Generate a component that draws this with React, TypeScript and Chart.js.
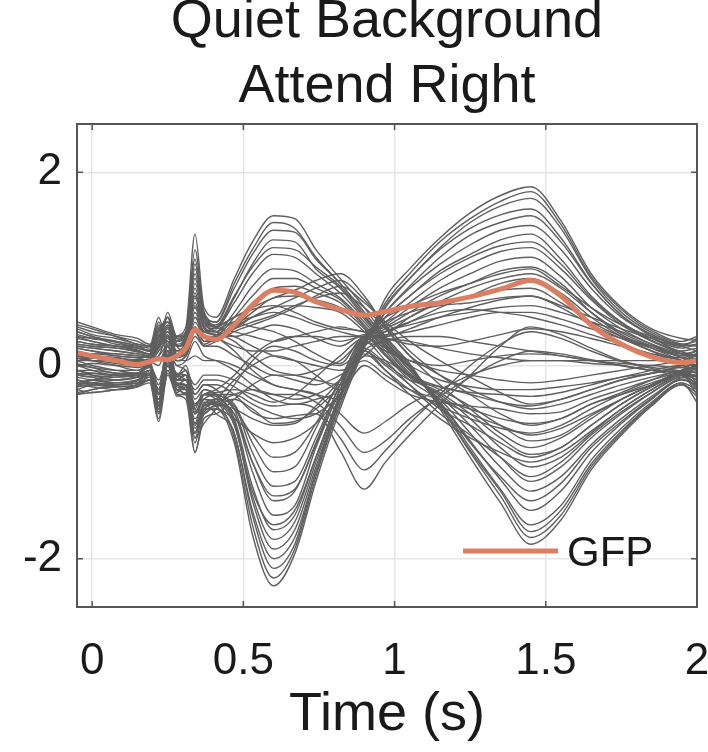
import React, { useEffect, useRef } from 'react';
import { Chart, registerables } from 'chart.js';

Chart.register(...registerables);

// ---------- data ----------
const times = [-0.05, 0, 0.08, 0.15, 0.19, 0.22, 0.25, 0.28, 0.31, 0.34, 0.37, 0.41, 0.47, 0.53, 0.6, 0.67, 0.74, 0.82, 0.9, 0.97, 1.05, 1.15, 1.25, 1.35, 1.45, 1.55, 1.65, 1.75, 1.85, 1.95, 2.0];

const gfp = [0.13, 0.1, 0.05, 0.01, 0.04, 0.07, 0.06, 0.1, 0.18, 0.37, 0.3, 0.27, 0.42, 0.62, 0.78, 0.76, 0.66, 0.58, 0.52, 0.56, 0.61, 0.65, 0.71, 0.79, 0.88, 0.72, 0.42, 0.22, 0.09, 0.03, 0.05];

// channels negative around 0.6 s, positive around 1.45 s
const n1 = [-0.15, -0.18, -0.22, -0.2, -0.1, -0.5, 0.05, -0.3, -0.35, -0.9, -0.5, -0.45, -0.8, -1.75, -2.28, -1.95, -1.2, -0.45, 0.18, 0.7, 1.0, 1.32, 1.58, 1.76, 1.85, 1.5, 0.95, 0.6, 0.38, 0.28, 0.26];
const n2 = [-0.1, -0.12, -0.2, -0.18, -0.05, -0.45, 0.1, -0.25, -0.3, -0.8, -0.45, -0.4, -0.75, -1.65, -2.2, -1.9, -1.15, -0.4, 0.2, 0.65, 0.95, 1.28, 1.52, 1.7, 1.8, 1.46, 0.92, 0.58, 0.36, 0.25, 0.3];
const n3 = [-0.2, -0.22, -0.25, -0.22, -0.15, -0.55, 0.0, -0.32, -0.28, -0.75, -0.4, -0.5, -0.7, -1.55, -2.1, -1.85, -1.1, -0.35, 0.22, 0.6, 0.9, 1.22, 1.48, 1.65, 1.73, 1.42, 0.9, 0.55, 0.34, 0.22, 0.2];
const n4 = [-0.05, -0.1, -0.15, -0.12, 0.0, -0.35, 0.15, -0.2, -0.2, -0.6, -0.3, -0.35, -0.6, -1.4, -1.9, -1.7, -1.05, -0.35, 0.25, 0.55, 0.8, 1.05, 1.25, 1.4, 1.45, 1.2, 0.8, 0.5, 0.32, 0.2, 0.15];
const n5 = [0.0, -0.05, -0.1, -0.1, 0.05, -0.3, 0.2, -0.15, -0.1, -0.45, -0.25, -0.3, -0.55, -1.25, -1.7, -1.55, -0.95, -0.3, 0.22, 0.5, 0.72, 0.98, 1.15, 1.3, 1.36, 1.1, 0.72, 0.45, 0.28, 0.18, 0.22];
const n6 = [-0.25, -0.2, -0.18, -0.15, -0.1, -0.4, 0.05, -0.2, -0.15, -0.5, -0.35, -0.4, -0.5, -1.1, -1.55, -1.45, -0.85, -0.25, 0.25, 0.45, 0.65, 0.88, 1.05, 1.18, 1.22, 1.0, 0.68, 0.42, 0.25, 0.12, 0.05];
const n7 = [0.1, 0.05, 0.0, -0.05, 0.0, -0.25, 0.25, -0.1, 0.0, -0.3, -0.2, -0.25, -0.45, -1.0, -1.4, -1.3, -0.8, -0.2, 0.28, 0.42, 0.6, 0.8, 0.95, 1.08, 1.12, 0.92, 0.6, 0.38, 0.22, 0.1, 0.12];
const n8 = [-0.3, -0.28, -0.25, -0.2, -0.15, -0.35, 0.0, -0.2, -0.25, -0.55, -0.4, -0.35, -0.42, -0.9, -1.25, -1.2, -0.75, -0.2, 0.3, 0.4, 0.55, 0.72, 0.85, 0.98, 1.02, 0.85, 0.55, 0.32, 0.18, 0.05, -0.02];
const n9 = [0.05, 0.0, -0.05, -0.08, 0.02, -0.2, 0.15, -0.12, -0.05, -0.35, -0.25, -0.3, -0.4, -0.8, -1.1, -1.05, -0.65, -0.15, 0.3, 0.35, 0.45, 0.6, 0.72, 0.85, 0.9, 0.75, 0.5, 0.3, 0.15, 0.02, 0.08];
const n10 = [-0.05, -0.08, -0.1, -0.1, -0.05, -0.3, 0.1, -0.15, -0.1, -0.4, -0.3, -0.3, -0.45, -0.72, -0.95, -0.9, -0.6, -0.15, 0.28, 0.3, 0.38, 0.5, 0.6, 0.68, 0.72, 0.6, 0.42, 0.28, 0.15, 0.05, 0.0];
const n11 = [-0.18, -0.2, -0.22, -0.2, -0.12, -0.45, 0.05, -0.25, -0.3, -0.7, -0.4, -0.4, -0.62, -1.3, -1.65, -1.5, -0.95, -0.3, 0.2, 0.55, 0.82, 1.12, 1.35, 1.48, 1.55, 1.28, 0.85, 0.52, 0.3, 0.15, 0.18];
const n12 = [-0.12, -0.15, -0.18, -0.15, -0.08, -0.42, 0.08, -0.22, -0.25, -0.7, -0.38, -0.42, -0.7, -1.5, -2.0, -1.78, -1.1, -0.4, 0.2, 0.62, 0.9, 1.2, 1.42, 1.56, 1.62, 1.32, 0.86, 0.52, 0.32, 0.2, 0.22];
const n13 = [0.02, -0.02, -0.08, -0.08, 0.0, -0.28, 0.12, -0.15, -0.15, -0.5, -0.3, -0.32, -0.58, -1.35, -1.8, -1.62, -1.0, -0.32, 0.24, 0.5, 0.72, 0.95, 1.12, 1.24, 1.28, 1.05, 0.7, 0.44, 0.26, 0.14, 0.1];
const n14 = [-0.22, -0.2, -0.2, -0.16, -0.1, -0.38, 0.02, -0.18, -0.2, -0.48, -0.35, -0.38, -0.5, -1.0, -1.35, -1.28, -0.82, -0.25, 0.26, 0.38, 0.5, 0.66, 0.8, 0.9, 0.95, 0.8, 0.55, 0.34, 0.2, 0.08, 0.04];

// channels positive around 0.6 s, negative around 1.45 s
const p1 = [0.3, 0.28, 0.25, 0.2, 0.15, 0.4, 0.1, 0.3, 0.4, 1.36, 0.6, 0.5, 0.9, 1.28, 1.55, 1.52, 1.2, 0.9, 0.6, 0.3, 0.02, -0.45, -0.95, -1.42, -1.85, -1.6, -1.08, -0.72, -0.42, -0.2, -0.32];
const p2 = [0.35, 0.3, 0.22, 0.2, 0.18, 0.45, 0.15, 0.25, 0.35, 1.1, 0.55, 0.45, 0.85, 1.2, 1.48, 1.42, 1.12, 0.85, 0.55, 0.28, 0.0, -0.42, -0.9, -1.35, -1.78, -1.55, -1.05, -0.7, -0.4, -0.18, -0.25];
const p3 = [0.25, 0.22, 0.2, 0.15, 0.12, 0.35, 0.3, 0.2, 0.3, 0.9, 0.5, 0.4, 0.7, 1.05, 1.3, 1.28, 1.0, 0.8, 0.5, 0.25, -0.05, -0.4, -0.85, -1.28, -1.65, -1.45, -0.98, -0.65, -0.38, -0.18, -0.38];
const p4 = [0.4, 0.35, 0.3, 0.22, 0.2, 0.5, 0.2, 0.3, 0.3, 0.75, 0.45, 0.4, 0.65, 0.95, 1.15, 1.12, 0.95, 0.75, 0.48, 0.22, -0.05, -0.38, -0.78, -1.18, -1.5, -1.3, -0.9, -0.6, -0.35, -0.15, -0.2];
const p5 = [0.2, 0.18, 0.15, 0.12, 0.1, 0.3, 0.35, 0.15, 0.25, 0.65, 0.4, 0.35, 0.55, 0.82, 1.0, 0.98, 0.85, 0.7, 0.45, 0.2, -0.08, -0.35, -0.7, -1.05, -1.3, -1.15, -0.82, -0.55, -0.32, -0.12, -0.1];
const p6 = [0.15, 0.12, 0.12, 0.1, 0.08, 0.25, 0.4, 0.12, 0.2, 0.5, 0.35, 0.32, 0.5, 0.72, 0.9, 0.9, 0.8, 0.68, 0.42, 0.18, -0.1, -0.32, -0.62, -0.95, -1.2, -1.05, -0.75, -0.5, -0.28, -0.1, -0.05];
const p7 = [0.28, 0.25, 0.2, 0.18, 0.15, 0.3, 0.45, 0.2, 0.15, 0.45, 0.3, 0.3, 0.45, 0.65, 0.8, 0.82, 0.75, 0.65, 0.4, 0.15, -0.12, -0.3, -0.55, -0.85, -1.05, -0.95, -0.7, -0.45, -0.25, -0.08, 0.0];
const p8 = [0.1, 0.08, 0.05, 0.05, 0.05, 0.2, 0.5, 0.1, 0.1, 0.4, 0.25, 0.25, 0.4, 0.55, 0.7, 0.72, 0.68, 0.6, 0.38, 0.12, -0.12, -0.28, -0.5, -0.75, -0.92, -0.85, -0.62, -0.4, -0.22, -0.05, 0.05];
const p9 = [0.32, 0.28, 0.24, 0.18, 0.16, 0.42, 0.22, 0.26, 0.32, 0.95, 0.5, 0.42, 0.72, 1.02, 1.22, 1.2, 1.02, 0.82, 0.52, 0.24, -0.02, -0.38, -0.8, -1.15, -1.4, -1.22, -0.85, -0.58, -0.34, -0.14, -0.22];
const p10 = [0.18, 0.15, 0.12, 0.1, 0.08, 0.22, 0.38, 0.12, 0.15, 0.5, 0.3, 0.28, 0.38, 0.5, 0.6, 0.62, 0.6, 0.55, 0.35, 0.1, -0.1, -0.25, -0.42, -0.62, -0.78, -0.72, -0.52, -0.35, -0.2, -0.06, -0.02];
const p11 = [0.22, 0.2, 0.18, 0.14, 0.12, 0.32, 0.25, 0.22, 0.3, 1.05, 0.52, 0.45, 0.8, 1.15, 1.4, 1.38, 1.1, 0.85, 0.55, 0.26, -0.02, -0.42, -0.88, -1.3, -1.72, -1.5, -1.02, -0.68, -0.4, -0.2, -0.28];

// channels with a bump near 0.82 s
const b1 = [0.22, 0.2, 0.18, 0.15, 0.12, 0.25, 0.3, 0.2, 0.25, 0.55, 0.35, 0.4, 0.5, 0.6, 0.7, 0.78, 0.88, 0.95, 0.72, 0.4, 0.1, -0.2, -0.45, -0.7, -0.85, -0.75, -0.55, -0.35, -0.2, -0.05, 0.0];
const b2 = [0.05, 0.05, 0.02, 0.0, 0.02, 0.15, 0.25, 0.1, 0.15, 0.4, 0.25, 0.3, 0.4, 0.5, 0.6, 0.7, 0.8, 0.88, 0.68, 0.42, 0.15, -0.1, -0.3, -0.5, -0.62, -0.55, -0.4, -0.28, -0.15, -0.05, -0.08];
const b3 = [0.18, 0.15, 0.1, 0.08, 0.05, 0.1, 0.2, 0.05, 0.1, 0.3, 0.2, 0.25, 0.35, 0.42, 0.5, 0.6, 0.72, 0.82, 0.65, 0.45, 0.25, 0.05, -0.12, -0.28, -0.4, -0.35, -0.25, -0.15, -0.08, 0.0, 0.05];
const b4 = [0.12, 0.1, 0.08, 0.06, 0.06, 0.18, 0.28, 0.08, 0.12, 0.35, 0.22, 0.28, 0.38, 0.45, 0.52, 0.62, 0.7, 0.75, 0.6, 0.38, 0.1, -0.1, -0.25, -0.38, -0.45, -0.4, -0.3, -0.2, -0.12, -0.05, 0.0];

// channels with a dip near 0.9 s
const v1 = [-0.2, -0.15, -0.12, -0.1, -0.05, -0.3, 0.0, -0.1, -0.15, -0.3, -0.2, -0.2, -0.3, -0.48, -0.55, -0.52, -0.5, -0.88, -1.28, -1.0, -0.72, -0.4, -0.1, 0.2, 0.4, 0.32, 0.18, 0.05, -0.02, -0.06, -0.12];
const v2 = [-0.1, -0.12, -0.1, -0.08, -0.02, -0.25, 0.05, -0.08, -0.1, -0.25, -0.15, -0.15, -0.22, -0.35, -0.42, -0.4, -0.45, -0.75, -1.08, -0.88, -0.6, -0.3, 0.0, 0.22, 0.35, 0.28, 0.15, 0.04, -0.03, -0.08, -0.02];
const v3 = [0.0, -0.02, -0.05, -0.05, 0.0, -0.15, 0.1, 0.0, -0.05, -0.2, -0.1, -0.1, -0.15, -0.25, -0.3, -0.3, -0.38, -0.62, -0.9, -0.78, -0.55, -0.32, -0.12, 0.05, 0.15, 0.12, 0.06, 0.0, -0.05, -0.1, -0.05];
const v4 = [0.1, 0.08, 0.05, 0.02, 0.04, 0.0, 0.2, 0.05, 0.05, 0.1, 0.05, 0.05, 0.0, -0.1, -0.2, -0.25, -0.3, -0.5, -0.7, -0.58, -0.4, -0.25, -0.1, 0.0, 0.05, 0.05, 0.02, 0.0, -0.05, -0.08, -0.2];

// smaller-amplitude channels
const m1 = [0.35, 0.3, 0.25, 0.2, 0.15, 0.2, 0.55, 0.3, 0.35, 1.2, 0.5, 0.35, 0.3, 0.2, 0.1, 0.05, 0.0, -0.05, 0.1, 0.3, 0.5, 0.65, 0.72, 0.78, 0.8, 0.65, 0.45, 0.3, 0.2, 0.12, 0.15];
const m2 = [-0.25, -0.28, -0.25, -0.22, -0.18, -0.58, -0.1, -0.3, -0.3, -0.9, -0.55, -0.5, -0.35, -0.2, -0.1, -0.15, -0.2, -0.1, 0.05, -0.1, -0.25, -0.35, -0.45, -0.55, -0.6, -0.55, -0.4, -0.3, -0.2, -0.1, -0.12];
const m3 = [0.42, 0.38, 0.3, 0.25, 0.2, 0.3, 0.5, 0.25, 0.3, 1.0, 0.55, 0.4, 0.35, 0.3, 0.25, 0.3, 0.35, 0.4, 0.35, 0.5, 0.62, 0.75, 0.85, 0.95, 1.0, 0.82, 0.6, 0.42, 0.3, 0.22, 0.25];
const m4 = [-0.15, -0.18, -0.2, -0.18, -0.15, -0.5, -0.05, -0.25, -0.2, -0.75, -0.6, -0.45, -0.2, 0.05, 0.2, 0.15, 0.05, 0.0, 0.15, 0.0, -0.2, -0.45, -0.62, -0.8, -0.95, -0.85, -0.62, -0.4, -0.22, -0.1, -0.2];
const m5 = [0.1, 0.12, 0.1, 0.08, 0.1, 0.35, 0.45, 0.2, 0.3, 0.8, 0.45, 0.35, 0.25, 0.1, -0.05, -0.1, -0.15, -0.2, 0.2, 0.35, 0.42, 0.5, 0.55, 0.6, 0.62, 0.55, 0.45, 0.35, 0.22, 0.12, 0.1];
const m6 = [0.0, 0.02, 0.0, -0.02, 0.0, -0.4, 0.15, -0.15, -0.1, -0.65, -0.45, -0.35, -0.15, 0.0, 0.1, 0.05, -0.1, -0.25, 0.0, -0.15, -0.3, -0.38, -0.42, -0.45, -0.5, -0.48, -0.35, -0.25, -0.15, -0.08, -0.15];
const m7 = [0.2, 0.18, 0.15, 0.12, 0.1, 0.2, 0.35, 0.15, 0.2, 0.7, 0.4, 0.3, 0.15, -0.05, -0.2, -0.25, -0.3, -0.35, 0.25, 0.15, 0.05, 0.0, 0.05, 0.1, 0.12, 0.1, 0.05, 0.02, 0.0, -0.02, 0.05];
const m8 = [-0.05, -0.05, -0.08, -0.1, -0.05, -0.3, 0.1, -0.1, -0.05, -0.5, -0.35, -0.3, -0.3, -0.4, -0.5, -0.55, -0.5, -0.3, 0.1, 0.05, -0.1, -0.22, -0.28, -0.3, -0.32, -0.28, -0.2, -0.12, -0.05, 0.0, -0.05];
const m9 = [0.3, 0.25, 0.2, 0.18, 0.15, 0.25, 0.4, 0.2, 0.25, 0.6, 0.35, 0.35, 0.45, 0.5, 0.55, 0.5, 0.42, 0.35, 0.3, 0.45, 0.55, 0.62, 0.65, 0.7, 0.72, 0.62, 0.5, 0.38, 0.28, 0.2, 0.28];
const m10 = [-0.3, -0.25, -0.22, -0.2, -0.15, -0.45, -0.05, -0.25, -0.25, -0.6, -0.45, -0.45, -0.55, -0.7, -0.8, -0.75, -0.6, -0.3, 0.15, 0.25, 0.3, 0.3, 0.25, 0.2, 0.15, 0.1, 0.05, 0.0, -0.05, -0.08, -0.15];
const m11 = [0.12, 0.1, 0.08, 0.05, 0.05, 0.1, 0.3, 0.05, 0.1, 0.35, 0.2, 0.2, 0.1, 0.0, -0.1, -0.1, -0.05, 0.05, 0.25, 0.05, -0.2, -0.5, -0.72, -0.95, -1.15, -1.0, -0.72, -0.48, -0.28, -0.12, -0.18];
const m12 = [-0.2, -0.18, -0.15, -0.12, -0.08, -0.25, 0.05, -0.15, -0.15, -0.4, -0.3, -0.25, -0.1, 0.1, 0.25, 0.3, 0.3, 0.25, 0.3, 0.1, -0.15, -0.35, -0.5, -0.62, -0.72, -0.65, -0.5, -0.35, -0.2, -0.08, -0.1];
const m13 = [0.45, 0.4, 0.32, 0.28, 0.22, 0.35, 0.5, 0.3, 0.3, 0.85, 0.5, 0.4, 0.5, 0.58, 0.62, 0.55, 0.45, 0.38, 0.35, 0.2, 0.05, -0.05, -0.1, -0.15, -0.18, -0.15, -0.1, -0.05, 0.0, 0.05, 0.1];
const m14 = [-0.1, -0.08, -0.1, -0.12, -0.1, -0.35, 0.0, -0.2, -0.2, -0.45, -0.5, -0.4, -0.45, -0.55, -0.62, -0.6, -0.42, -0.15, 0.2, 0.35, 0.45, 0.55, 0.58, 0.55, 0.5, 0.42, 0.32, 0.22, 0.12, 0.05, 0.0];
const m15 = [0.05, 0.08, 0.05, 0.02, 0.05, 0.05, 0.2, 0.0, 0.05, 0.25, 0.1, 0.05, -0.05, -0.2, -0.35, -0.4, -0.35, -0.25, 0.15, -0.05, -0.3, -0.55, -0.75, -0.9, -1.0, -0.9, -0.68, -0.45, -0.25, -0.1, -0.25];
const m16 = [0.25, 0.22, 0.2, 0.16, 0.12, 0.28, 0.42, 0.2, 0.22, 0.62, 0.38, 0.32, 0.3, 0.35, 0.42, 0.38, 0.28, 0.2, 0.32, 0.28, 0.22, 0.2, 0.25, 0.32, 0.38, 0.35, 0.28, 0.2, 0.12, 0.08, 0.12];
const m17 = [-0.18, -0.15, -0.15, -0.12, -0.1, -0.42, 0.0, -0.18, -0.2, -0.62, -0.42, -0.38, -0.3, -0.25, -0.3, -0.35, -0.3, -0.15, 0.12, -0.05, -0.25, -0.42, -0.55, -0.65, -0.7, -0.62, -0.45, -0.3, -0.18, -0.1, -0.3];
const m18 = [0.08, 0.05, 0.05, 0.04, 0.06, 0.18, 0.32, 0.1, 0.15, 0.55, 0.32, 0.28, 0.2, 0.15, 0.15, 0.2, 0.25, 0.3, 0.3, 0.32, 0.35, 0.42, 0.5, 0.55, 0.55, 0.48, 0.38, 0.28, 0.18, 0.1, 0.15];
const m19 = [-0.08, -0.1, -0.12, -0.1, -0.08, -0.35, 0.05, -0.12, -0.1, -0.42, -0.3, -0.28, -0.25, -0.3, -0.38, -0.3, -0.12, 0.1, 0.28, 0.18, 0.0, -0.15, -0.22, -0.25, -0.25, -0.22, -0.18, -0.12, -0.08, -0.02, -0.08];
const m20 = [0.38, 0.32, 0.28, 0.22, 0.2, 0.38, 0.45, 0.28, 0.32, 0.72, 0.42, 0.38, 0.45, 0.4, 0.35, 0.25, 0.12, 0.02, 0.3, 0.28, 0.25, 0.18, 0.12, 0.08, 0.05, 0.05, 0.05, 0.05, 0.05, 0.05, 0.12];
const m21 = [-0.28, -0.25, -0.2, -0.18, -0.12, -0.48, -0.08, -0.28, -0.22, -0.7, -0.48, -0.42, -0.35, -0.45, -0.6, -0.58, -0.45, -0.2, 0.18, 0.02, -0.15, -0.22, -0.3, -0.38, -0.42, -0.35, -0.25, -0.15, -0.08, -0.05, -0.18];

const channels = [
  n1, n2, n3, n4, n5, n6, n7, n8, n9, n10, n11, n12, n13, n14,
  p1, p2, p3, p4, p5, p6, p7, p8, p9, p10, p11,
  b1, b2, b3, b4, v1, v2, v3, v4,
  m1, m2, m3, m4, m5, m6, m7, m8, m9, m10, m11, m12, m13, m14, m15, m16, m17, m18, m19, m20, m21,
];

const xTicks = [0, 0.5, 1, 1.5, 2];
const yTicks = [-2, 0, 2];
const titleLines = ['Quiet Background', 'Attend Right'];
const xLabel = 'Time (s)';
const legendLabel = 'GFP';

// ---------- styles ----------
const FONT = '"Liberation Sans", Arial, Helvetica, sans-serif';
const GRAY = '#5f5f5f';
const ORANGE = '#dc7e61';
const GRID = '#e6e6e6';
const AXIS = '#555555';
const TXT = '#1a1a1a';

const framePlugin = {
  id: 'frame',
  afterDraw(chart: any) {
    const { ctx, chartArea } = chart;
    const { left, right, top, bottom } = chartArea;
    const xs = chart.scales.x;
    const ys = chart.scales.y;
    ctx.save();
    ctx.strokeStyle = AXIS;
    ctx.lineWidth = 1.5;
    ctx.beginPath();
    for (const v of xTicks) {
      const px = xs.getPixelForValue(v);
      ctx.moveTo(px, bottom);
      ctx.lineTo(px, bottom - 6);
      ctx.moveTo(px, top);
      ctx.lineTo(px, top + 6);
    }
    for (const v of yTicks) {
      const py = ys.getPixelForValue(v);
      ctx.moveTo(left, py);
      ctx.lineTo(left + 6, py);
      ctx.moveTo(right, py);
      ctx.lineTo(right - 6, py);
    }
    ctx.stroke();
    ctx.lineWidth = 2;
    ctx.strokeRect(left, top, right - left, bottom - top);

    // legend (inside the axes, lower right)
    const ly = top + 427;
    ctx.strokeStyle = ORANGE;
    ctx.lineWidth = 5;
    ctx.beginPath();
    ctx.moveTo(left + 386, ly);
    ctx.lineTo(left + 481, ly);
    ctx.stroke();
    ctx.fillStyle = TXT;
    ctx.font = `42px ${FONT}`;
    ctx.textAlign = 'left';
    ctx.textBaseline = 'alphabetic';
    ctx.fillText(legendLabel, left + 490, ly + 15);

    // title
    const cx = (left + right) / 2;
    ctx.font = `54px ${FONT}`;
    ctx.textAlign = 'center';
    ctx.fillText(titleLines[0], cx, 37);
    ctx.fillText(titleLines[1], cx, 102);
    ctx.restore();
  },
};

export default function App() {
  const ref = useRef<HTMLCanvasElement>(null);
  useEffect(() => {
    document.body.style.margin = '0';
    const canvas = ref.current as HTMLCanvasElement;
    const datasets: any[] = [
      {
        label: legendLabel,
        data: gfp.map((y, i) => ({ x: times[i], y })),
        borderColor: ORANGE,
        borderWidth: 5,
        order: 0,
      },
      ...channels.map((c, k) => ({
        label: `ch${k + 1}`,
        data: c.map((y, i) => ({ x: times[i], y })),
        borderColor: GRAY,
        borderWidth: 1.4,
        order: 1,
      })),
    ];
    const chart = new Chart(canvas, {
      type: 'line',
      data: { datasets },
      plugins: [framePlugin],
      options: {
        responsive: false,
        animation: false,
        devicePixelRatio: 1,
        layout: { padding: { left: 0, right: 11, top: 124, bottom: 0 } },
        elements: {
          point: { radius: 0 },
          line: { cubicInterpolationMode: 'monotone', borderCapStyle: 'round', borderJoinStyle: 'round' },
        },
        plugins: { legend: { display: false }, tooltip: { enabled: false }, title: { display: false } },
        scales: {
          x: {
            type: 'linear',
            min: -0.05,
            max: 2,
            afterBuildTicks: (s: any) => { s.ticks = xTicks.map((v) => ({ value: v })); },
            afterFit: (s: any) => { s.height = 145; s.paddingLeft = 0; s.paddingRight = 0; },
            grid: { color: GRID, lineWidth: 1.5, drawTicks: false },
            border: { display: false },
            ticks: {
              padding: 28,
              autoSkip: false,
              maxRotation: 0,
              color: TXT,
              font: { family: FONT, size: 44 },
              callback: (v: any) => String(v),
            },
            title: {
              display: true,
              text: xLabel,
              color: TXT,
              font: { family: FONT, size: 54 },
              padding: { top: 0, bottom: 4 },
            },
          },
          y: {
            type: 'linear',
            min: -2.5,
            max: 2.5,
            afterBuildTicks: (s: any) => { s.ticks = yTicks.map((v) => ({ value: v })); },
            afterFit: (s: any) => { s.width = 77; s.paddingTop = 0; s.paddingBottom = 0; },
            grid: { color: GRID, lineWidth: 1.5, drawTicks: false },
            border: { display: false },
            ticks: {
              padding: 15,
              color: TXT,
              font: { family: FONT, size: 44 },
              callback: (v: any) => String(v),
            },
          },
        },
      } as any,
    });
    return () => chart.destroy();
  }, []);
  return <canvas ref={ref} width={708} height={752} style={{ display: 'block', width: '708px', height: '752px' }} />;
}
